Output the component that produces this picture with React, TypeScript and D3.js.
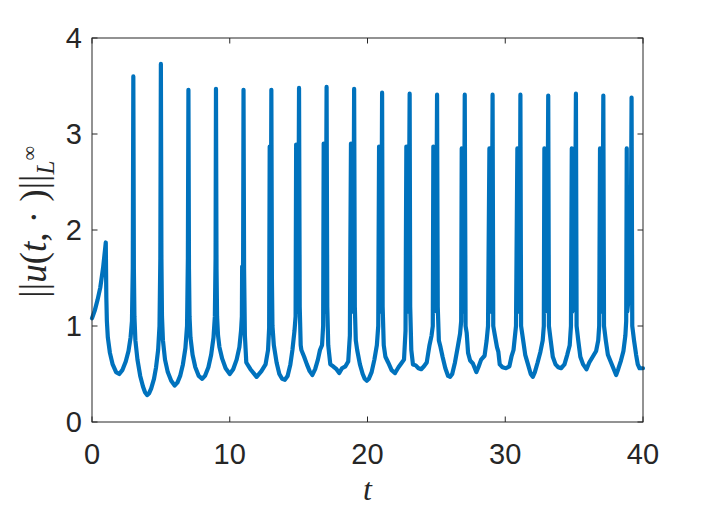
import React, { useEffect, useRef } from 'react';
import * as d3 from 'd3';

// (t, ||u(t,.)||) samples
const normSeries: [number, number][] = [
  [0, 1.08], [0.2, 1.16], [0.4, 1.27], [0.6, 1.4], [0.8, 1.6], [0.95, 1.8], [1.0, 1.87],
  [1.04, 1.3], [1.08, 1.05], [1.15, 0.88], [1.3, 0.72], [1.5, 0.6], [1.75, 0.52], [1.98, 0.5], [2.2, 0.54],
  [2.45, 0.63], [2.65, 0.74], [2.8, 0.88], [2.9, 1.05], [2.96, 1.6], [3.0, 3.6],
  [3.04, 1.6], [3.08, 1.1], [3.15, 0.85], [3.3, 0.65], [3.5, 0.48], [3.7, 0.37], [3.85, 0.31], [4.0, 0.28],
  [4.15, 0.3], [4.3, 0.35], [4.5, 0.45], [4.65, 0.57], [4.8, 0.75], [4.9, 1.0], [4.96, 1.7], [5.0, 3.73],
  [5.04, 1.7], [5.08, 1.1], [5.15, 0.85], [5.3, 0.65], [5.5, 0.52], [5.75, 0.43], [6.0, 0.38], [6.2, 0.41],
  [6.4, 0.48], [6.6, 0.6], [6.78, 0.77], [6.9, 1.0], [6.96, 1.7], [7.0, 3.46],
  [7.04, 1.6], [7.08, 1.1], [7.15, 0.88], [7.3, 0.7], [7.5, 0.57], [7.75, 0.48], [8.0, 0.45], [8.2, 0.48],
  [8.45, 0.57], [8.65, 0.7], [8.82, 0.88], [8.92, 1.1], [8.97, 1.7], [9.0, 3.47],
  [9.04, 1.6], [9.08, 1.1], [9.15, 0.9], [9.25, 0.78], [9.45, 0.66], [9.7, 0.56], [10.0, 0.5], [10.25, 0.55],
  [10.5, 0.65], [10.7, 0.78], [10.82, 0.95], [10.88, 1.1], [10.9, 1.62], [10.92, 1.15], [10.97, 1.7], [11.0, 3.46],
  [11.04, 1.6], [11.1, 0.9], [11.2, 0.62], [11.5, 0.55], [11.95, 0.47], [12.3, 0.53], [12.6, 0.6], [12.78, 0.75],
  [12.86, 0.98], [12.9, 2.87], [12.93, 1.2], [12.98, 1.7], [13.02, 3.46],
  [13.06, 1.5], [13.1, 1.0], [13.2, 0.8], [13.4, 0.62], [13.6, 0.5], [13.8, 0.45], [14.0, 0.44], [14.2, 0.48],
  [14.4, 0.6], [14.55, 0.75], [14.7, 0.95], [14.78, 1.1], [14.82, 2.89], [14.86, 1.15], [14.97, 1.5], [15.03, 3.48],
  [15.08, 1.2], [15.15, 0.8], [15.2, 0.75], [15.4, 0.68], [15.6, 0.6], [15.8, 0.53], [16.0, 0.49], [16.2, 0.55],
  [16.4, 0.65], [16.55, 0.75], [16.7, 0.8], [16.78, 1.0], [16.82, 2.9], [16.86, 1.15], [16.97, 1.5], [17.03, 3.49],
  [17.08, 1.2], [17.15, 0.8], [17.3, 0.6], [17.5, 0.58], [17.75, 0.55], [17.95, 0.51], [18.15, 0.56], [18.4, 0.58],
  [18.6, 0.63], [18.72, 0.9], [18.8, 2.9], [18.85, 1.15], [18.97, 1.5], [19.03, 3.47],
  [19.08, 1.2], [19.15, 0.85], [19.25, 0.75], [19.45, 0.6], [19.65, 0.5], [19.8, 0.45], [19.95, 0.43], [20.1, 0.45],
  [20.3, 0.52], [20.5, 0.65], [20.68, 0.8], [20.78, 1.0], [20.84, 2.87], [20.88, 1.15], [21.0, 1.5], [21.06, 3.43],
  [21.1, 1.2], [21.18, 0.8], [21.3, 0.68], [21.5, 0.62], [21.75, 0.54], [22.0, 0.51], [22.25, 0.57], [22.5, 0.62],
  [22.65, 0.65], [22.76, 0.95], [22.82, 2.87], [22.86, 1.15], [22.98, 1.5], [23.06, 3.42],
  [23.1, 1.2], [23.18, 0.75], [23.3, 0.6], [23.5, 0.59], [23.7, 0.56], [23.9, 0.55], [24.1, 0.58], [24.3, 0.62],
  [24.5, 0.8], [24.65, 0.9], [24.74, 1.0], [24.78, 2.87], [24.82, 1.15], [24.98, 1.5], [25.05, 3.41],
  [25.1, 1.2], [25.18, 0.85], [25.3, 0.78], [25.45, 0.68], [25.65, 0.56], [25.85, 0.48], [26.0, 0.47], [26.15, 0.5],
  [26.35, 0.62], [26.55, 0.78], [26.72, 0.92], [26.8, 1.05], [26.84, 2.85], [26.88, 1.15], [27.0, 1.5], [27.06, 3.41],
  [27.12, 1.0], [27.2, 0.93], [27.3, 0.72], [27.45, 0.64], [27.65, 0.61], [27.9, 0.52], [28.05, 0.57], [28.25, 0.65],
  [28.5, 0.69], [28.65, 0.85], [28.75, 1.0], [28.85, 2.85], [28.9, 1.15], [29.02, 1.5], [29.08, 3.41],
  [29.13, 1.0], [29.25, 0.9], [29.4, 0.78], [29.5, 0.73], [29.6, 0.6], [29.8, 0.57], [30.05, 0.56], [30.3, 0.58],
  [30.45, 0.68], [30.6, 0.75], [30.78, 1.0], [30.88, 2.85], [30.92, 1.15], [31.05, 1.5], [31.1, 3.41],
  [31.15, 1.0], [31.3, 0.85], [31.45, 0.7], [31.65, 0.6], [31.85, 0.5], [32.0, 0.47], [32.15, 0.52], [32.35, 0.62],
  [32.55, 0.73], [32.72, 0.85], [32.8, 1.0], [32.84, 2.85], [32.88, 1.15], [33.05, 1.5], [33.12, 3.4],
  [33.17, 1.0], [33.3, 0.85], [33.45, 0.68], [33.65, 0.6], [33.85, 0.57], [34.05, 0.56], [34.3, 0.6], [34.5, 0.7],
  [34.68, 0.8], [34.77, 1.0], [34.83, 2.85], [34.87, 1.15], [35.05, 1.5], [35.13, 3.42],
  [35.18, 1.0], [35.3, 0.85], [35.45, 0.68], [35.65, 0.6], [35.9, 0.55], [36.1, 0.62], [36.35, 0.68], [36.6, 0.74],
  [36.75, 0.85], [36.82, 1.0], [36.88, 2.85], [36.92, 1.15], [37.05, 1.5], [37.12, 3.4],
  [37.17, 1.0], [37.3, 0.85], [37.45, 0.7], [37.65, 0.63], [37.85, 0.56], [38.05, 0.49], [38.2, 0.55], [38.4, 0.64],
  [38.58, 0.74], [38.72, 0.9], [38.78, 1.05], [38.82, 2.85], [38.86, 1.15], [39.1, 1.5], [39.17, 3.38],
  [39.22, 1.0], [39.35, 0.85], [39.5, 0.7], [39.62, 0.6], [39.75, 0.56], [40.0, 0.56],
];

const xTicks = [0, 10, 20, 30, 40];
const yTicks = [0, 1, 2, 3, 4];

const App = () => {
  const svgRef = useRef<SVGSVGElement>(null);

  useEffect(() => {
    const width = 710;
    const height = 515;
    const margin = { top: 38, right: 67, bottom: 93, left: 92 };
    const ink = '#262626';

    const svg = d3.select(svgRef.current);
    svg.selectAll('*').remove();
    svg.attr('width', width).attr('height', height);

    const x = d3.scaleLinear().domain([0, 40]).range([margin.left, width - margin.right]);
    const y = d3.scaleLinear().domain([0, 4]).range([height - margin.bottom, margin.top]);

    // curve
    const line = d3
      .line<[number, number]>()
      .x((d) => x(d[0]))
      .y((d) => y(d[1]));

    svg
      .append('path')
      .datum(normSeries)
      .attr('fill', 'none')
      .attr('stroke', '#0072BD')
      .attr('stroke-width', 4.2)
      .attr('stroke-linejoin', 'round')
      .attr('stroke-linecap', 'round')
      .attr('d', line);

    // box
    const x0 = x(0), x1 = x(40), y0 = y(0), y1 = y(4);
    svg
      .append('rect')
      .attr('x', x0)
      .attr('y', y1)
      .attr('width', x1 - x0)
      .attr('height', y0 - y1)
      .attr('fill', 'none')
      .attr('stroke', ink)
      .attr('stroke-width', 1);

    // inner ticks on all four sides
    const tickLen = 5.5;
    const ticks = svg.append('g').attr('stroke', ink).attr('stroke-width', 1);
    xTicks.forEach((v) => {
      ticks.append('line').attr('x1', x(v)).attr('x2', x(v)).attr('y1', y0).attr('y2', y0 - tickLen);
      ticks.append('line').attr('x1', x(v)).attr('x2', x(v)).attr('y1', y1).attr('y2', y1 + tickLen);
    });
    yTicks.forEach((v) => {
      ticks.append('line').attr('x1', x0).attr('x2', x0 + tickLen).attr('y1', y(v)).attr('y2', y(v));
      ticks.append('line').attr('x1', x1).attr('x2', x1 - tickLen).attr('y1', y(v)).attr('y2', y(v));
    });

    // tick labels
    const labelFont = '"Liberation Sans", Arial, sans-serif';
    svg
      .append('g')
      .selectAll('text')
      .data(xTicks)
      .enter()
      .append('text')
      .attr('x', (d) => x(d))
      .attr('y', y0 + 42)
      .attr('text-anchor', 'middle')
      .attr('font-family', labelFont)
      .attr('font-size', 29)
      .attr('fill', ink)
      .text((d) => d);

    svg
      .append('g')
      .selectAll('text')
      .data(yTicks)
      .enter()
      .append('text')
      .attr('x', x0 - 10)
      .attr('y', (d) => y(d) + 10)
      .attr('text-anchor', 'end')
      .attr('font-family', labelFont)
      .attr('font-size', 29)
      .attr('fill', ink)
      .text((d) => d);

    // axis labels (LaTeX-style)
    const mathFont = '"Liberation Serif", "DejaVu Serif", serif';
    svg
      .append('text')
      .attr('x', (x0 + x1) / 2)
      .attr('y', y0 + 78)
      .attr('text-anchor', 'middle')
      .attr('font-family', mathFont)
      .attr('font-style', 'italic')
      .attr('font-size', 32)
      .attr('fill', ink)
      .text('t');

    const yl = svg
      .append('text')
      .attr('transform', `translate(46,222) rotate(-90)`)
      .attr('text-anchor', 'middle')
      .attr('font-family', mathFont)
      .attr('font-size', 37)
      .attr('fill', ink);
    yl.append('tspan').text('||');
    yl.append('tspan').attr('font-style', 'italic').text('u');
    yl.append('tspan').text('(');
    yl.append('tspan').attr('font-style', 'italic').text('t');
    yl.append('tspan').text(', · )||');
    yl.append('tspan').attr('font-style', 'italic').attr('font-size', 25).attr('dy', 8).text('L');
    yl.append('tspan').attr('font-size', 20).attr('dy', -18).text('∞');
  }, []);

  return (
    <div style={{ position: 'absolute', left: 0, top: 0, background: '#fff' }}>
      <svg ref={svgRef} style={{ display: 'block' }}></svg>
    </div>
  );
};

export default App;
